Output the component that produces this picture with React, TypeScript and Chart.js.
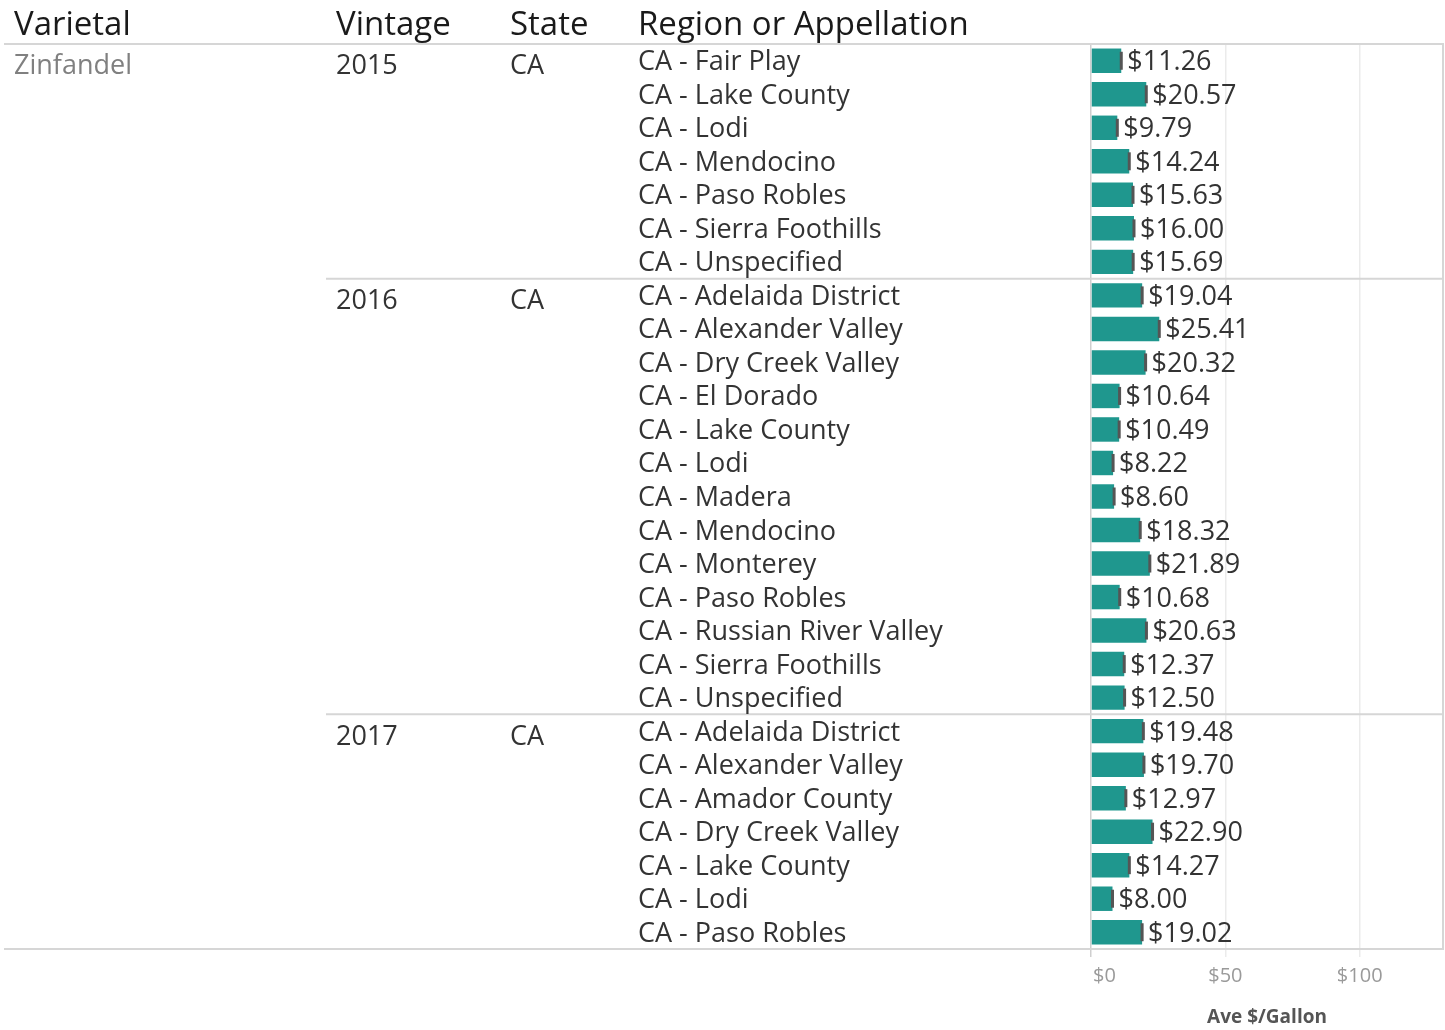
import React, { useEffect, useRef } from "react";
import { Chart, registerables } from "chart.js";

Chart.register(...registerables);

const headers = ["Varietal", "Vintage", "State", "Region or Appellation"];
const varietal = "Zinfandel";
const vintages = ["2015", "2016", "2017"];
const states = ["CA", "CA", "CA"];

const regions2015 = ["CA - Fair Play", "CA - Lake County", "CA - Lodi", "CA - Mendocino", "CA - Paso Robles", "CA - Sierra Foothills", "CA - Unspecified"];
const values2015 = [11.26, 20.57, 9.79, 14.24, 15.63, 16.0, 15.69];

const regions2016 = ["CA - Adelaida District", "CA - Alexander Valley", "CA - Dry Creek Valley", "CA - El Dorado", "CA - Lake County", "CA - Lodi", "CA - Madera", "CA - Mendocino", "CA - Monterey", "CA - Paso Robles", "CA - Russian River Valley", "CA - Sierra Foothills", "CA - Unspecified"];
const values2016 = [19.04, 25.41, 20.32, 10.64, 10.49, 8.22, 8.6, 18.32, 21.89, 10.68, 20.63, 12.37, 12.5];

const regions2017 = ["CA - Adelaida District", "CA - Alexander Valley", "CA - Amador County", "CA - Dry Creek Valley", "CA - Lake County", "CA - Lodi", "CA - Paso Robles"];
const values2017 = [19.48, 19.7, 12.97, 22.9, 14.27, 8.0, 19.02];

const xTicks = [0, 50, 100];
const axisTitle = "Ave $/Gallon";

const groups = [regions2015, regions2016, regions2017];
const groupValues = [values2015, values2016, values2017];

const FONT = "'Open Sans'";

export default function App() {
  const ref = useRef<HTMLCanvasElement | null>(null);

  useEffect(() => {
    const canvas = ref.current;
    if (!canvas) return;
    const labels: string[] = [];
    const values: number[] = [];
    const groupStart: number[] = [];
    groups.forEach((g, gi) => {
      groupStart.push(labels.length);
      g.forEach((r, i) => {
        labels.push(r);
        values.push(groupValues[gi][i]);
      });
    });

    const tablePlugin = {
      id: "tablePlugin",
      beforeDatasetsDraw(chart: any) {
        const ctx = chart.ctx;
        const ca = chart.chartArea;
        const y = chart.scales.y;
        ctx.save();
        ctx.strokeStyle = "#d6d6d6";
        ctx.lineWidth = 2;
        const hline = (x1: number, x2: number, yy: number) => {
          ctx.beginPath();
          ctx.moveTo(x1, yy);
          ctx.lineTo(x2, yy);
          ctx.stroke();
        };
        hline(4, ca.right + 1, ca.top);
        hline(4, ca.right + 1, ca.bottom);
        groupStart.slice(1).forEach((s) => {
          const yy = (y.getPixelForValue(s - 1) + y.getPixelForValue(s)) / 2;
          hline(326, ca.right + 1, yy);
        });
        ctx.beginPath();
        ctx.moveTo(ca.right, ca.top);
        ctx.lineTo(ca.right, ca.bottom);
        ctx.stroke();
        ctx.restore();
      },
      afterDatasetsDraw(chart: any) {
        const ctx = chart.ctx;
        const ca = chart.chartArea;
        const x = chart.scales.x;
        const y = chart.scales.y;
        ctx.save();
        ctx.textBaseline = "alphabetic";
        ctx.textAlign = "left";
        // headers
        ctx.fillStyle = "#1a1a1a";
        ctx.font = `33px ${FONT}`;
        const headerX = [14, 336, 510, 638];
        headers.forEach((h, i) => ctx.fillText(h, headerX[i], ca.top - 9));
        // varietal
        ctx.font = `27px ${FONT}`;
        ctx.fillStyle = "#808080";
        ctx.fillText(varietal, 14, y.getPixelForValue(0) + 13.5);
        ctx.fillStyle = "#333333";
        groupStart.forEach((s, gi) => {
          const yy = y.getPixelForValue(s) + 13.5;
          ctx.fillText(vintages[gi], 336, yy);
          ctx.fillText(states[gi], 510, yy);
        });
        labels.forEach((l, i) => {
          ctx.fillText(l, 638, y.getPixelForValue(i) + 9.5);
        });
        // marks and value labels
        values.forEach((v, i) => {
          const px = x.getPixelForValue(v);
          const py = y.getPixelForValue(i);
          ctx.fillStyle = "#555555";
          ctx.fillRect(px - 1.5, py - 9, 3, 18);
          ctx.fillStyle = "#333333";
          ctx.font = `27px ${FONT}`;
          ctx.fillText("$" + v.toFixed(2), px + 6, py + 9.5);
        });
        // tick labels
        ctx.font = `20px ${FONT}`;
        ctx.fillStyle = "#9a9a9a";
        xTicks.forEach((t, i) => {
          const tx = x.getPixelForValue(t);
          ctx.textAlign = i === 0 ? "left" : "center";
          ctx.fillText("$" + t, i === 0 ? tx + 2 : tx, 982);
        });
        // axis title
        ctx.font = `bold 19px ${FONT}`;
        ctx.fillStyle = "#555555";
        ctx.textAlign = "center";
        ctx.fillText(axisTitle, (ca.left + ca.right) / 2, 1023);
        ctx.restore();
      },
    };

    const chart = new Chart(canvas, {
      type: "bar",
      data: {
        labels,
        datasets: [
          {
            data: values,
            backgroundColor: "#1f978e",
            barPercentage: 0.73,
            categoryPercentage: 1,
          },
        ],
      },
      options: {
        indexAxis: "y",
        responsive: false,
        animation: false,
        devicePixelRatio: 1,
        layout: { padding: { left: 1091, right: 2, top: 44, bottom: 0 } },
        plugins: { legend: { display: false }, tooltip: { enabled: false } },
        scales: {
          x: {
            min: 0,
            max: 131,
            afterBuildTicks: (scale: any) => {
              scale.ticks = xTicks.map((v) => ({ value: v }));
            },
            afterFit: (scale: any) => {
              scale.height = 81;
            },
            grid: {
              color: (c: any) => (c.tick && c.tick.value === 0 ? "#cfcfcf" : "#ebebeb"),
              lineWidth: 1.5,
              tickLength: 8,
            },
            border: { display: false },
            ticks: {
              display: false,
            },
          },
          y: {
            display: false,
          },
        },
      },
      plugins: [tablePlugin],
    } as any);
    return () => chart.destroy();
  }, []);

  return (
    <div style={{ position: "absolute", left: 0, top: 0, width: 1445, height: 1030, background: "#fff" }}>
      <canvas ref={ref} width={1445} height={1030} style={{ display: "block" }} />
    </div>
  );
}
